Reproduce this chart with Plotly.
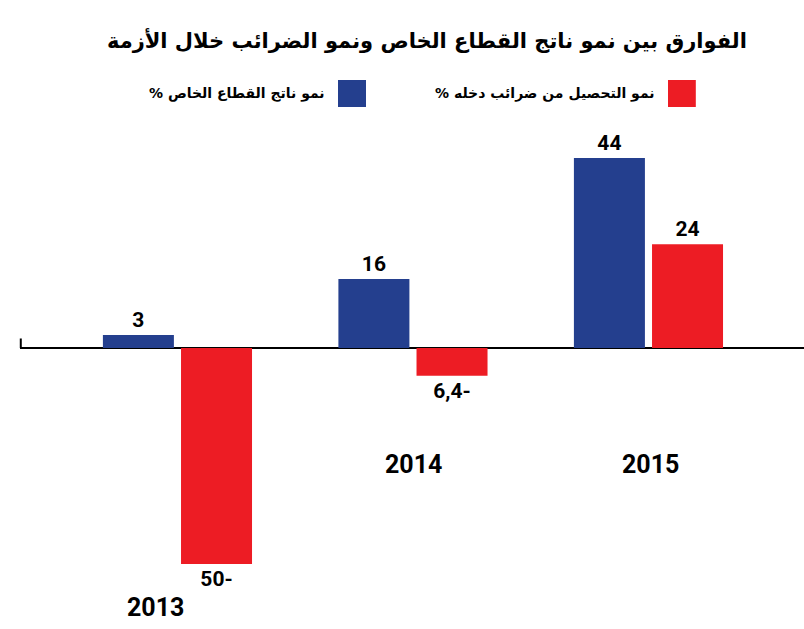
import plotly.graph_objects as go

years = ["2013", "2014", "2015"]
private_growth = [3, 16, 44]
tax_growth = [-50, -6.4, 24]
private_labels = ["3", "16", "44"]
tax_labels = ["50-", "6,4-", "24"]

title_text = "الفوارق بين نمو ناتج القطاع الخاص ونمو الضرائب خلال الأزمة"
private_name = "نمو ناتج القطاع الخاص %"
tax_name = "نمو التحصيل من ضرائب دخله %"

BLUE = "#243F8E"
RED = "#ED1C24"
NUM_FONT = "Liberation Sans Narrow, Roboto, Arial Narrow, sans-serif"
AR_FONT = "DejaVu Sans, Noto Sans, sans-serif"
RLM = "\u200f"  # keeps the trailing % on the left of the Arabic text

xpos = list(range(len(years)))
label_font = dict(family=NUM_FONT, size=21, color="black", weight="bold")

fig = go.Figure()
fig.add_trace(go.Bar(
    x=xpos, y=private_growth, name=private_name,
    width=0.3015, offset=-0.317,
    marker=dict(color=BLUE, line=dict(width=0)),
    text=private_labels, textposition="outside", textfont=label_font,
    cliponaxis=False,
))
fig.add_trace(go.Bar(
    x=xpos, y=tax_growth, name=tax_name,
    width=0.3015, offset=0.0147,
    marker=dict(color=RED, line=dict(width=0)),
    text=tax_labels, textposition="outside", textfont=label_font,
    cliponaxis=False,
))

# year labels under each group (2013 pushed lower by the deep red bar)
year_y = [-60, -27, -27]
year_shift = [-22, 0, 2]
for x, yr, yy, xs in zip(xpos, years, year_y, year_shift):
    fig.add_annotation(x=x, y=yy, text="<b>%s</b>" % yr, showarrow=False,
                       xshift=xs, font=dict(family=NUM_FONT, size=25, color="black"))

# hand-made legend, swatch to the right of its text
legend_items = [(RED, tax_name, 0.8265, 0.862, 0.8125),
                (BLUE, private_name, 0.4056, 0.4413, 0.3916)]
for color, label, sx0, sx1, tx in legend_items:
    fig.add_shape(type="rect", xref="paper", yref="paper",
                  x0=sx0, x1=sx1, y0=1.0255, y1=1.0786,
                  fillcolor=color, line=dict(width=0))
    fig.add_annotation(xref="paper", yref="paper", x=tx, y=1.053,
                       text="<b>%s</b>" % (label + RLM),
                       showarrow=False, xanchor="right", yanchor="middle",
                       font=dict(family=AR_FONT, size=14, color="black"))

# small tick at the left end of the baseline
fig.add_shape(type="line", xref="paper", yref="y", x0=0.001, x1=0.001, y0=0, y1=2.2,
              line=dict(color="black", width=2))

fig.update_layout(
    width=804, height=629,
    autosize=False,
    margin=dict(l=20, r=0, t=120, b=0),
    paper_bgcolor="white", plot_bgcolor="white",
    showlegend=False,
    barmode="group",
    title=dict(text="<b>%s</b>" % title_text, x=0.531, xanchor="center", y=0.936, yanchor="middle",
               font=dict(family=AR_FONT, size=21, color="black")),
    xaxis=dict(range=[-0.669, 2.66], visible=False, fixedrange=True),
    yaxis=dict(range=[-65.05, 52.78], showgrid=False, showticklabels=False,
               zeroline=True, zerolinecolor="black", zerolinewidth=2, fixedrange=True),
)

fig.write_html("out.html", config={"displayModeBar": False},
               post_script="document.body.style.margin='0';document.body.style.overflow='hidden';")
